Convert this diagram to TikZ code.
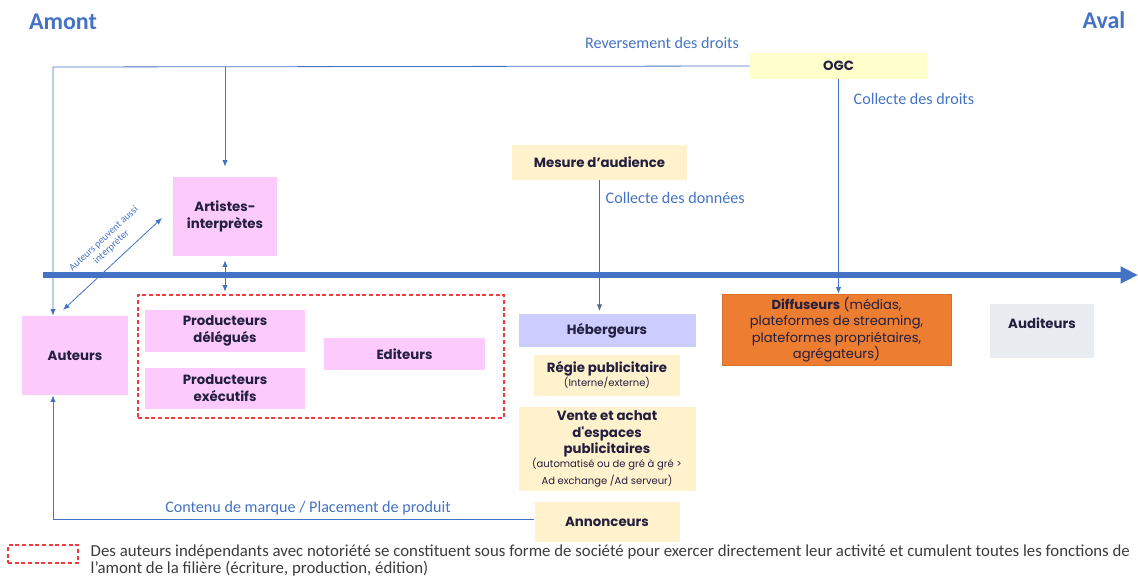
\documentclass[tikz,border=0pt]{standalone}
\usepackage{fontspec}
\setmainfont{Carlito}
\newfontfamily\boxfont{Poppins}
\usetikzlibrary{arrows.meta,positioning}
\definecolor{linkblue}{HTML}{4472C4}
\definecolor{boxtext}{HTML}{231F3F}
\definecolor{pinkfill}{HTML}{FCCBFC}
\definecolor{ogcfill}{HTML}{FFFFCC}
\definecolor{peachfill}{HTML}{FFF2CC}
\definecolor{lavfill}{HTML}{CCCCFF}
\definecolor{orangefill}{HTML}{ED7D31}
\definecolor{greyfill}{HTML}{E9EDF2}
\definecolor{dashred}{HTML}{F03C3C}
\definecolor{legendgrey}{HTML}{3B3B3B}
\definecolor{datagrey}{HTML}{5B6B7F}
\tikzset{
    box size/.style 2 args={minimum width=#1*0.75pt, minimum height=#2*0.75pt},
    raw box/.style={rectangle, inner sep=0pt, align=center, text=boxtext,
        font=\boxfont\fontsize{10}{12.5}\selectfont\bfseries},
    pink box/.style={raw box, fill=pinkfill},
    peach box/.style={raw box, fill=peachfill},
    ogc box/.style={raw box, fill=ogcfill},
    lav box/.style={raw box, fill=lavfill},
    orange box/.style={raw box, fill=orangefill, draw=orangefill!90!black, thin,
        font=\boxfont\fontsize{9.8}{12.4}\selectfont},
    grey box/.style={raw box, fill=greyfill},
    red dashed/.style={draw=dashred, line width=0.9pt, dash pattern=on 3pt off 2pt},
    side title/.style={font=\fontsize{18}{20}\selectfont\bfseries, text=linkblue},
    flow label/.style={font=\fontsize{12.1}{14}\selectfont, text=linkblue},
    small note/.style={font=\fontsize{7.5}{8.5}\selectfont, text=linkblue, align=center},
    legend text/.style={font=\fontsize{12.6}{12.8}\selectfont, text=legendgrey, align=left},
    link/.style={->, draw=linkblue, line width=0.6pt},
    axis/.style={-{Triangle[length=13pt,width=12pt]}, draw=linkblue, line width=4.5pt}
}
\newcommand{\smallnote}{\mdseries\fontsize{7.5}{9}\selectfont}

\begin{document}
\begin{tikzpicture}[x=0.75pt,y=-0.75pt,>={Latex[length=5pt,width=4pt]}]
	\useasboundingbox (0,0) rectangle (1138,578);
	% upstream / downstream
	\node[side title] (amont) at (63,22) {Amont};
	\node[side title] (aval) at (1104,20) {Aval};
	
	\coordinate (axisL) at (43,275);
	\coordinate (axisR) at (1138,275);
	\draw[axis] (axisL) -- (axisR);
	
	\node[ogc box, box size={177}{26}] (ogc) at (838.5,66) {OGC};
	\node[peach box, box size={175}{35}] (mesure) at (599.5,162.5) {Mesure d’audience};
	
	\node[pink box, box size={104}{79}] (artistes) at (225,216.5) {Artistes-\\interprètes};
	\node[pink box, box size={106}{79}] (auteurs) at (75,355.5) {Auteurs};
	\node[red dashed, box size={366}{123}] (amontgroup) at (321,356.5) {};
	\node[pink box, box size={160}{42}] (proddel) at (225,331) {Producteurs\\délégués};
	\node[pink box, box size={160}{41}, below=11.25pt of proddel] (prodexe) {Producteurs\\exécutifs};
	\node[pink box, box size={161}{32}] (editeurs) at (404.5,354) {Editeurs};
	
	\node[lav box, box size={177}{33}] (hebergeurs) at (607,330.5) {Hébergeurs};
	\node[peach box, box size={146}{41}, below=5.25pt of hebergeurs] (regie)
		{Régie publicitaire\\[-2pt]\smallnote (Interne/externe)};
	\node[peach box, box size={177}{84}, below=8.25pt of regie] (vente)
		{Vente et achat\\d'espaces\\publicitaires\\[-2pt]\smallnote (automatisé ou de gré à gré >\\\smallnote Ad exchange /Ad serveur)};
	\node[peach box, box size={145}{40}, below=7.5pt of vente] (annonceurs) {Annonceurs};
	
	\node[orange box, box size={229}{71}] (diffuseurs) at (836.5,329.5)
		{\textbf{Diffuseurs} (médias,\\plateformes de streaming,\\plateformes propriétaires,\\agrégateurs)};
	\node[grey box, box size={104}{54}] (auditeurs) at (1042,331) {Auditeurs\\\phantom{A}};
	
	% rights flows
	\coordinate (revL) at (53,67);
	\draw[link] (ogc.west) -- (revL) -- (revL |- auteurs.north);
	\coordinate (revA) at (artistes.north |- revL);
	\draw[link, shorten >=7.5pt] (revA) -- (artistes.north);
	\node[flow label] (revlabel) at (662,43) {Reversement des droits};
	\draw[link] (ogc.south) -- (ogc.south |- diffuseurs.north);
	\node[flow label, anchor=west] (collectelabel) at (849,99) {Collecte des droits};
	
	\draw[->, draw=datagrey, line width=0.6pt, shorten >=2pt] (mesure.south) -- (mesure.south |- hebergeurs.north);
	\node[flow label, anchor=west] (donneeslabel) at (601,198) {Collecte des données};
	
	\draw[<->, draw=linkblue, line width=0.6pt, shorten <=3pt, shorten >=2pt] (artistes.south) -- (artistes.south |- amontgroup.north);
	\coordinate (diagA) at (63,310);
	\coordinate (diagB) at (162,218);
	\draw[<->, draw=linkblue, line width=0.6pt] (diagA) -- (diagB)
		node[small note, pos=0.58, sloped, above=3pt] (diaglabel) {Auteurs peuvent aussi\\interpréter};
	
	\coordinate (contL) at (53,519);
	\draw[link] (annonceurs.west |- contL) -- (contL) -- (contL |- auteurs.south);
	\node[flow label] (contlabel) at (308,508) {Contenu de marque / Placement de produit};
	
	% legend
	\node[red dashed, box size={70}{18}] (legendbox) at (43,554) {};
	\node[legend text, anchor=west] (legendtxt) at (86,560.5)
		{Des auteurs indépendants avec notoriété se constituent sous forme de société pour exercer directement leur activité et cumulent toutes les fonctions de\\l’amont de la filière (écriture, production, édition)};
\end{tikzpicture}
\end{document}
